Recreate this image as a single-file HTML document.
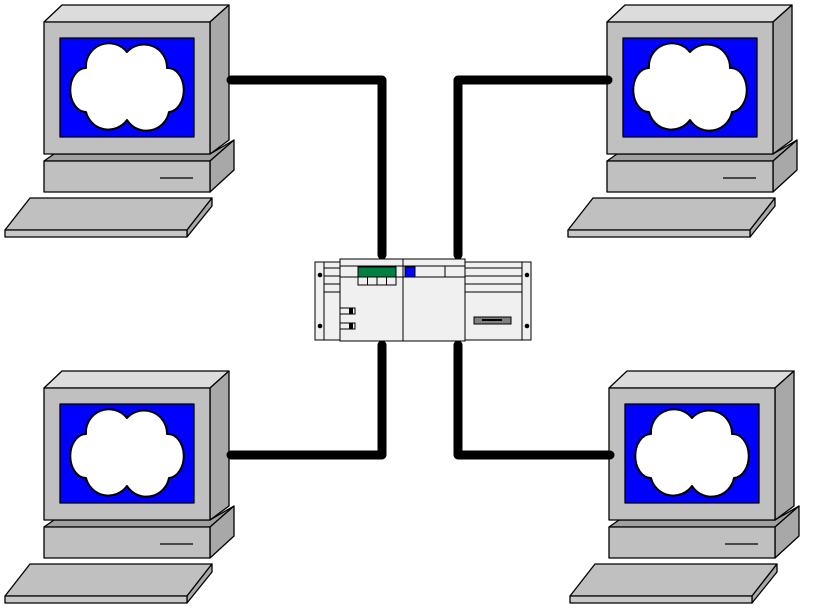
<!DOCTYPE html>
<html><head><style>html,body{margin:0;padding:0;background:#fff}svg{display:block}</style></head>
<body>
<svg width="821" height="609" viewBox="0 0 821 609" xmlns="http://www.w3.org/2000/svg">
<defs>
<g id="pc" stroke="#000" stroke-width="1.3" stroke-linejoin="round">
  <polygon points="44,161 54,154 210,154 234,140 210,161" fill="#a0a0a0"/>
  <polygon points="210,161 234,140 234,170 210,192" fill="#a8a8a8"/>
  <rect x="44" y="161" width="166" height="31" fill="#c0c0c0"/>
  <line x1="160" y1="178" x2="193" y2="178"/>
  <polygon points="44,22 62,5 229,5 210,22" fill="#dcdcdc"/>
  <polygon points="210,22 229,5 229,140 210,154" fill="#a8a8a8"/>
  <rect x="44" y="22" width="166" height="132" fill="#c0c0c0"/>
  <rect x="60" y="38" width="134" height="99" fill="#0000ff"/>
  <path d="M86,68 A23,23 0 0 1 127,52 A23,23 0 0 1 167,68 A15,21 0 0 1 169,112 A23,23 0 0 1 127,120 A23,23 0 0 1 86,112 A15,21 0 0 1 86,68 Z" fill="#fff" stroke-width="2"/>
  <polygon points="5,230 30,198 212,198 187,230" fill="#c0c0c0"/>
  <polygon points="187,230 212,198 212,206 187,237" fill="#a8a8a8"/>
  <rect x="5" y="230" width="182" height="7" fill="#c8c8c8"/>
</g>
</defs>
<use href="#pc"/>
<use href="#pc" transform="translate(563,0)"/>
<use href="#pc" transform="translate(0,366)"/>
<use href="#pc" transform="translate(565,366)"/>
<g fill="none" stroke="#000" stroke-width="9" stroke-linecap="round" stroke-linejoin="round">
  <polyline points="231,80 382,80 382,255"/>
  <polyline points="608,80 458,80 458,255"/>
  <polyline points="382,345 382,455 231,455"/>
  <polyline points="458,345 458,455 610,455"/>
</g>
<g stroke="#000" stroke-width="1" fill="#f0f0f0">
  <rect x="315" y="262" width="25" height="78"/>
  <line x1="324" y1="262" x2="324" y2="340"/>
  <rect x="465" y="262" width="66" height="78"/>
  <line x1="522" y1="262" x2="522" y2="340"/>
  <line x1="465" y1="268" x2="522" y2="268"/><line x1="465" y1="276" x2="522" y2="276"/>
  <line x1="465" y1="284" x2="522" y2="284"/><line x1="465" y1="292" x2="522" y2="292"/>
  <line x1="324" y1="268" x2="340" y2="268"/><line x1="324" y1="276" x2="340" y2="276"/>
  <line x1="324" y1="284" x2="340" y2="284"/><line x1="324" y1="292" x2="340" y2="292"/>
  <rect x="340" y="259" width="125" height="82"/>
  <line x1="403" y1="259" x2="403" y2="341"/>
  <line x1="340" y1="266" x2="465" y2="266"/>
  <line x1="340" y1="277" x2="465" y2="277"/>
  <line x1="445" y1="266" x2="445" y2="277"/>
  <rect x="358" y="267" width="38" height="10" fill="#008040"/>
  <rect x="405" y="267" width="10" height="10" fill="#0000ff"/>
  <rect x="358" y="277" width="9.5" height="8"/><rect x="367.5" y="277" width="9.5" height="8"/>
  <rect x="377" y="277" width="9.5" height="8"/><rect x="386.5" y="277" width="9.5" height="8"/>
  <rect x="340" y="308" width="15" height="6"/><rect x="340" y="323" width="15" height="6"/>
  <rect x="474" y="317" width="37" height="7" fill="#808080"/>
</g>
<g fill="#000">
  <rect x="349" y="308" width="4" height="6"/><rect x="349" y="323" width="4" height="6"/>
  <circle cx="320" cy="275" r="2.3"/><circle cx="320" cy="326" r="2.3"/>
  <circle cx="527" cy="275" r="2.3"/><circle cx="527" cy="326" r="2.3"/>
  <rect x="482" y="319" width="20" height="2"/>
</g>
</svg>
</body></html>
